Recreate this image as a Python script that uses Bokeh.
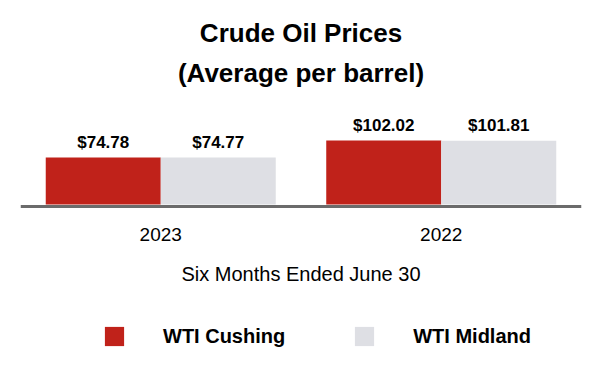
from bokeh.plotting import figure
from bokeh.models import (ColumnDataSource, FactorRange, Range1d, LabelSet, Label,
                          Legend, LegendItem)
from bokeh.core.properties import value
from bokeh.transform import dodge
from bokeh.embed import file_html
from bokeh.resources import INLINE

# ---- data ----
years = ["2023", "2022"]
wti_cushing = [74.78, 102.02]
wti_midland = [74.77, 101.81]
series_names = ["WTI Cushing", "WTI Midland"]
title_lines = ["Crude Oil Prices", "(Average per barrel)"]
x_title = "Six Months Ended June 30"

RED = "#C0221A"
GRAY = "#DEDFE4"
FONT = "Liberation Sans"

src = ColumnDataSource(data=dict(
    year=years,
    cushing=wti_cushing,
    midland=wti_midland,
    cushing_lbl=["$%.2f" % v for v in wti_cushing],
    midland_lbl=["$%.2f" % v for v in wti_midland],
))

p = figure(width=592, height=372, x_range=FactorRange(factors=years),
           y_range=Range1d(-267.8, 325.2), output_backend="svg",
           toolbar_location=None, min_border_left=20, min_border_right=11,
           min_border_top=0, min_border_bottom=0)
p.outline_line_color = None
p.xgrid.visible = False
p.ygrid.visible = False
p.yaxis.visible = False

off = 0.205
bw = 0.41
r1 = p.vbar(x=dodge("year", -off, range=p.x_range), top="cushing", bottom=0,
            width=bw, source=src, fill_color=RED, line_color=None)
r2 = p.vbar(x=dodge("year", off, range=p.x_range), top="midland", bottom=0,
            width=bw, source=src, fill_color=GRAY, line_color=None)

for col, lbl, o in (("cushing", "cushing_lbl", -off), ("midland", "midland_lbl", off)):
    p.add_layout(LabelSet(x=dodge("year", o, range=p.x_range), y=col, text=lbl,
                          source=src, y_offset=10, text_align="center",
                          text_baseline="alphabetic", text_font=value(FONT),
                          text_font_style="bold", text_font_size="17px",
                          text_color="black"))

p.add_layout(Label(x=1.0, y=272.6, text=title_lines[0], text_align="center",
                   text_baseline="middle", text_font=FONT, text_font_style="bold",
                   text_font_size="26px", text_color="black"))
p.add_layout(Label(x=1.0, y=210.4, text=title_lines[1], text_align="center",
                   text_baseline="middle", text_font=FONT, text_font_style="bold",
                   text_font_size="26px", text_color="black"))

ax = p.xaxis[0]
ax.fixed_location = -2.39
ax.axis_line_width = 3
ax.axis_line_color = "#6B6B6B"
ax.major_tick_line_color = None
ax.minor_tick_line_color = None
ax.major_tick_out = 0
ax.major_tick_in = 0
ax.major_label_standoff = 22
ax.major_label_text_font = FONT
ax.major_label_text_font_size = "19px"
ax.major_label_text_color = "black"
ax.axis_label = x_title
ax.axis_label_text_font = FONT
ax.axis_label_text_font_style = "normal"
ax.axis_label_text_font_size = "20px"
ax.axis_label_text_color = "black"
ax.axis_label_standoff = 18

legend = Legend(items=[LegendItem(label=series_names[0], renderers=[r1]),
                       LegendItem(label=series_names[1], renderers=[r2])],
                orientation="horizontal", location=(82, 24),
                glyph_width=24, glyph_height=24, label_standoff=37, spacing=67,
                label_text_font=FONT, label_text_font_style="bold",
                label_text_font_size="20px", label_text_color="black",
                padding=0, margin=0, border_line_color=None,
                background_fill_alpha=0)
p.add_layout(legend)

open("out.html", "w").write(file_html(p, INLINE))
